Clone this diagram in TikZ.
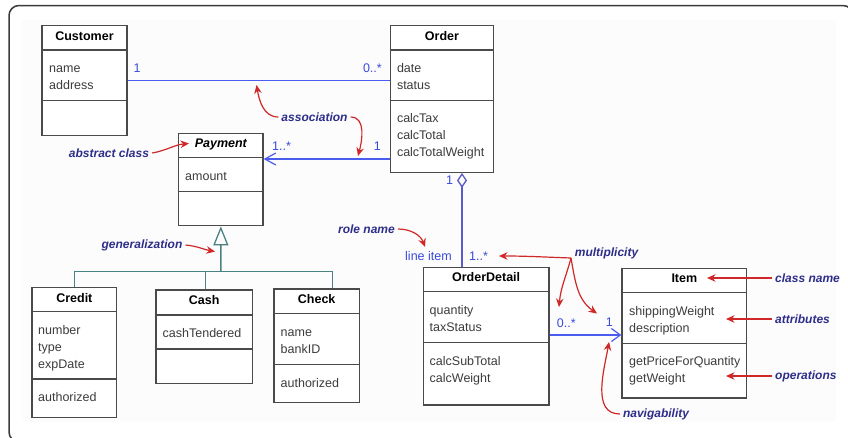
\documentclass[tikz,border=0pt]{standalone}
\usepackage{fontspec}
\setmainfont{Liberation Sans}
\usetikzlibrary{arrows.meta}

\definecolor{frameC}{HTML}{3A3A3A}
\definecolor{panelC}{HTML}{FCFCFC}
\definecolor{boxC}{HTML}{4A4A4A}
\definecolor{memberC}{HTML}{3C3C3C}
\definecolor{assocC}{HTML}{4A5CF0}
\definecolor{aggrC}{HTML}{5A5AC8}
\definecolor{multC}{HTML}{3A4ADC}
\definecolor{genC}{HTML}{4A8282}
\definecolor{noteC}{HTML}{2E2E8A}
\definecolor{redC}{HTML}{D02828}

\tikzset{
  classbox/.style={draw=boxC, line width=1.2pt, inner sep=0pt, fill=white},
  classline/.style={draw=boxC, line width=1.2pt},
  classtitle/.style={font=\fontsize{12.5}{15}\selectfont\bfseries, anchor=base, inner sep=0pt},
  member/.style={font=\fontsize{12.5}{15}\selectfont, text=memberC, anchor=base west, inner sep=0pt},
  mult/.style={font=\fontsize{12.5}{15}\selectfont, text=multC, anchor=base, inner sep=0pt},
  assoc/.style={draw=assocC, line width=1.2pt},
  aggr/.style={draw=aggrC, line width=1.3pt},
  gen/.style={draw=genC, line width=1.3pt},
  note/.style={font=\fontsize{12}{14}\selectfont\bfseries\itshape, text=noteC, inner sep=3pt},
  redarrow/.style={draw=redC, line width=1.2pt, -{Stealth[length=8.5pt,width=7.5pt]}},
}

% class box: name, left, top, right, bottom, first separator, second separator, title
\newcommand\umlclass[8]{%
  \node[classbox, minimum width={(#4-#2)*1pt}, minimum height={(#5-#3)*1pt}]
    (#1) at ({(#2+#4)/2},{-(#3+#5)/2}) {};
  \draw[classline] (#2,-#6) -- (#4,-#6);
  \draw[classline] (#2,-#7) -- (#4,-#7);
  \node[classtitle] (#1-title) at ({(#2+#4)/2},{-(#3+#6)/2-2.4}) {#8};
}
% compartment lines: prefix, x, first baseline, list of entries
\newcommand\umlmembers[4]{%
  \foreach \txt [count=\k] in {#4} {\node[member] (#1-\k) at (#2,{-(#3+17*(\k-1))}) {\txt};}
}

\begin{document}
\begin{tikzpicture}[x=1pt,y=1pt]
\useasboundingbox (0,0) rectangle (848,-437);

% page frame and panel
\begin{scope}
  \clip (0,0) rectangle (848,-437);
  \fill[panelC] (22,-20) rectangle (836,-422);
  \draw[frameC, line width=1.5pt, rounded corners=10pt] (9,-5.5) rectangle (853,-442);
\end{scope}

% classes
\umlclass{customer}{42}{25.7}{127}{135.5}{50}{100.5}{Customer}
\umlmembers{customer-a}{49}{72.5}{name,address}

\umlclass{order}{390.3}{25.7}{493.7}{172.3}{50}{100.7}{Order}
\umlmembers{order-a}{396.8}{72.5}{date,status}
\umlmembers{order-o}{396.8}{122.5}{calcTax,calcTotal,calcTotalWeight}

\umlclass{payment}{178.7}{133.3}{263}{225.7}{157.3}{191.7}{\itshape Payment}
\umlmembers{payment-a}{185}{180}{amount}

\umlclass{credit}{32}{287.7}{116.7}{417.3}{311.7}{379}{Credit}
\umlmembers{credit-a}{38}{334.5}{number,type,expDate}
\umlmembers{credit-o}{38}{401.5}{authorized}

\umlclass{cash}{156}{290}{252.3}{383.3}{315}{349}{Cash}
\umlmembers{cash-a}{162.5}{337.5}{cashTendered}

\umlclass{check}{274}{289}{359.3}{402.3}{313.3}{364.3}{Check}
\umlmembers{check-a}{280.5}{336.5}{name,bankID}
\umlmembers{check-o}{280.5}{387}{authorized}

\umlclass{orderdetail}{423.3}{267.3}{549}{405}{291.7}{342.3}{OrderDetail}
\umlmembers{orderdetail-a}{429.5}{314.5}{quantity,taxStatus}
\umlmembers{orderdetail-o}{429.5}{365}{calcSubTotal,calcWeight}

\umlclass{item}{622}{268.3}{746.7}{398}{292.7}{343.3}{Item}
\umlmembers{item-a}{629}{315.5}{shippingWeight,description}
\umlmembers{item-o}{629}{365}{getPriceForQuantity,getWeight}

% associations
\draw[assoc] (customer.east) -- (order.west |- customer.east);
\coordinate (payrow) at (0,-159);
\draw[assoc, {Straight Barb[length=11pt,width=12pt]}-] (payment.east |- payrow) -- (order.west |- payrow);
\coordinate (itemrow) at (0,-335);
\draw[assoc, -{Straight Barb[length=9pt,width=13pt]}] (orderdetail.east |- itemrow) -- (item.west |- itemrow);

% aggregation
\coordinate (aggcol) at (462,0);
\draw[aggr, {Diamond[open, length=15pt, width=10pt]}-] (order.south -| aggcol) -- (orderdetail.north -| aggcol);

% generalization
\coordinate (genbar) at (220.85,-271.7);
\draw[gen, -{Triangle[open, length=19pt, width=15pt]}] (genbar) -- (payment.south);
\draw[gen] (credit.north) |- (genbar);
\draw[gen] ([xshift=1.5pt]cash.north) |- (genbar);
\draw[gen] ([xshift=15.6pt]check.north) |- (genbar);

% multiplicities and role name
\node[mult] (m-cust) at (137,-72.5) {1};
\node[mult, anchor=base east] (m-ord1) at (382,-72.5) {0..*};
\node[mult, anchor=base west] (m-pay) at (272,-150) {1..*};
\node[mult] (m-ord2) at (377.3,-150) {1};
\node[mult] (m-ord3) at (449.5,-184.5) {1};
\node[mult, anchor=base west] (m-role) at (405,-260) {line item};
\node[mult, anchor=base west] (m-od1) at (469,-260) {1..*};
\node[mult, anchor=base west] (m-od2) at (556.7,-327) {0..*};
\node[mult] (m-item) at (609.3,-326) {1};

% annotations
\node[note] (n-assoc) at (314.5,-117) {association};
\node[note] (n-abs) at (109,-153) {abstract class};
\node[note] (n-gen) at (142,-245) {generalization};
\node[note] (n-role) at (366.5,-229) {role name};
\node[note] (n-mult) at (606.5,-253) {multiplicity};
\node[note, anchor=west] (n-cls) at (772,-278) {class name};
\node[note, anchor=west] (n-attr) at (772,-319) {attributes};
\node[note, anchor=west] (n-ops) at (772,-376) {operations};
\node[note] (n-nav) at (656,-414) {navigability};

\coordinate (t-assoc1) at (256.5,-85);
\coordinate (t-assoc2) at (358,-156);
\coordinate (t-abs) at (189,-143.5);
\coordinate (t-gen) at (215,-251.5);
\coordinate (t-role) at (425,-247);
\coordinate (multhub) at (571,-258);
\coordinate (t-mult1) at (499,-256);
\coordinate (t-mult2) at (559,-307);
\coordinate (t-mult3) at (597,-313.5);
\coordinate (t-cls) at (707,-278);
\coordinate (t-attr) at (726,-319);
\coordinate (t-ops) at (726,-376);
\coordinate (t-nav) at (609,-342);

\draw[redarrow] (n-assoc.west) to[out=180, in=-80] (t-assoc1);
\draw[redarrow] (n-assoc.east) to[out=0, in=75] (t-assoc2);
\draw[redarrow] (n-abs.east) to[out=10, in=185] (t-abs);
\draw[redarrow] (n-gen.east) to[out=-5, in=170] (t-gen);
\draw[redarrow] (n-role.east) to[out=0, in=110] (t-role);
\draw[redarrow] (multhub) to[out=178, in=0] (t-mult1);
\draw[redarrow] (multhub) to[out=-105, in=85] (t-mult2);
\draw[redarrow] (multhub) to[out=-80, in=145] (t-mult3);
\draw[redarrow] (n-cls.west) -- (t-cls);
\draw[redarrow] (n-attr.west) -- (t-attr);
\draw[redarrow] (n-ops.west) -- (t-ops);
\draw[redarrow] (n-nav.west) to[out=180, in=-100] (t-nav);
\end{tikzpicture}
\end{document}
